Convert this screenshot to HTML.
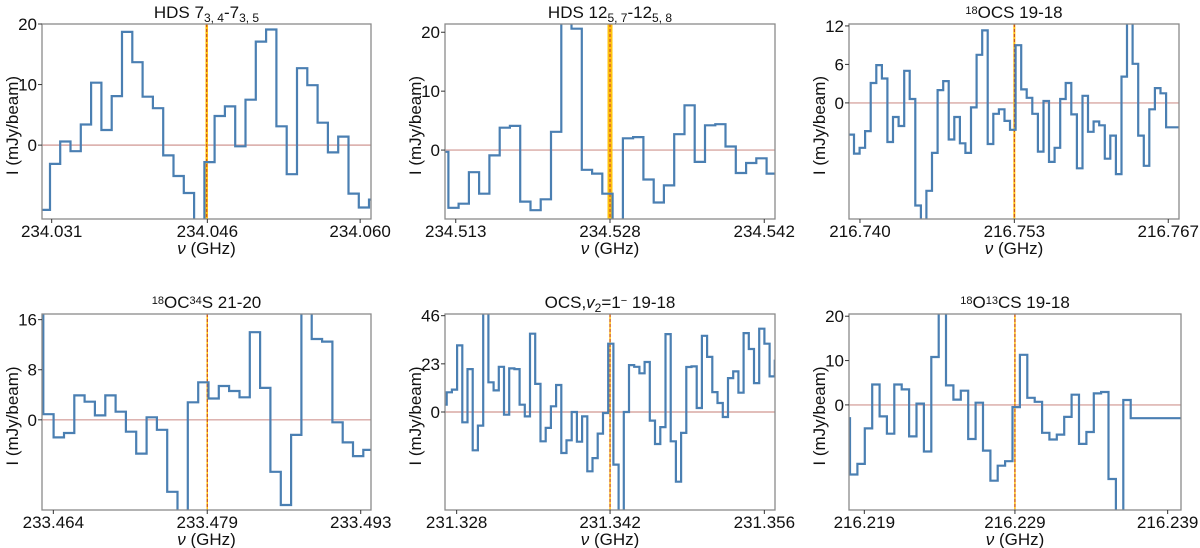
<!DOCTYPE html>
<html><head><meta charset="utf-8"><style>
html,body{margin:0;padding:0;background:#fff;}
svg{display:block;font-family:"Liberation Sans","DejaVu Sans",sans-serif;}
</style></head><body>
<svg id="fig" width="1200" height="548" viewBox="0 0 1200 548" xmlns="http://www.w3.org/2000/svg"></svg>
<script>
// ---- data (values in mJy/beam, one per channel) ----
const titles = ["HDS 7<tspan baseline-shift='-30%' font-size='12'>3, 4</tspan>-7<tspan baseline-shift='-30%' font-size='12'>3, 5</tspan>",
 "HDS 12<tspan baseline-shift='-30%' font-size='12'>5, 7</tspan>-12<tspan baseline-shift='-30%' font-size='12'>5, 8</tspan>",
 "<tspan baseline-shift='40%' font-size='11'>18</tspan>OCS 19-18",
 "<tspan baseline-shift='40%' font-size='11'>18</tspan>OC<tspan baseline-shift='40%' font-size='11'>34</tspan>S 21-20",
 "OCS,<tspan font-style='italic'>v</tspan><tspan baseline-shift='-30%' font-size='12'>2</tspan>=1<tspan baseline-shift='40%' font-size='11'>−</tspan> 19-18",
 "<tspan baseline-shift='40%' font-size='11'>18</tspan>O<tspan baseline-shift='40%' font-size='11'>13</tspan>CS 19-18"];
const xTicks = [[234.03100,234.04564,234.06001],[234.51300,234.52750,234.54200],[216.74000,216.75352,216.76700],
                [233.46400,233.47852,233.49300],[231.32800,231.34196,231.35600],[216.21900,216.22893,216.23900]];
const xTickLabels = [["234.031","234.046","234.060"],["234.513","234.528","234.542"],["216.740","216.753","216.767"],
                     ["233.464","233.479","233.493"],["231.328","231.342","231.356"],["216.219","216.229","216.239"]];
const yTicks = [[0,10,20],[0,10,20],[0,6,12],[0,8,16],[0,23,46],[0,10,20]];
const xDomains = [[234.03009,234.06103],[234.51199,234.54301],[216.73904,216.76794],
                  [233.46293,233.49397],[231.32694,231.35697],[216.21799,216.23988]];
const yDomains = [[-12.2,20],[-11.7,21.4],[-18.1,12.3],[-14.4,16.9],[-46.8,46.8],[-23.7,20.5]];
const chanStart = [234.02987,234.51134,216.73899,233.46208,231.32662,216.21757];
const chanWidth = [0.000968,0.000965,0.000488,0.000974,0.000474,0.000487];
const lineFreq = [234.04558,234.52750,216.75352,233.47852,231.34196,216.22893];
const s1 = [-10.7,-3.1,0.6,-1.0,3.4,10.3,2.5,8.1,18.7,13.7,8.0,6.1,-1.7,-5.1,-7.9,-14,-2.8,4.8,6.4,-0.2,7.5,17.1,19.1,3.1,-4.8,12.7,9.9,3.7,-1.2,1.4,-8.0,-10.3,-9.0];
const s2 = [-0.3,-9.8,-9.1,-3.75,-7.4,-0.9,3.8,4.1,-8.75,-10.2,-8.35,3.1,23,20.6,-3.35,-4.0,-7.4,-14,2.0,2.2,-5.0,-8.9,-6.0,2.7,7.6,-2.0,4.2,4.4,0.6,-3.9,-2.2,-1.4,-4.0];
const s3 = [-4.95,-7.9,-7.0,-4.4,3.1,5.9,3.8,-6.1,-2.2,-3.6,5.0,0.6,-16.0,-20,-13.7,-7.8,2.0,3.4,-5.7,-2.2,-6.3,-7.8,-0.7,7.5,11.3,-6.4,-1.7,-1.0,-2.8,-4.2,9.0,2.1,0.8,-1.7,-7.6,0.3,-9.2,-7.0,0.6,3.1,-1.8,-10.2,1.1,-4.5,-2.9,-3.5,-8.7,-5.1,-11.1,4.1,14,6.1,-5.1,-9.8,-1.0,2.3,1.5,-3.8,-3.8,-3.8];
const s4 = [20,0.9,-2.8,-2.1,3.9,2.9,0.7,3.9,1.3,-1.9,-5.4,0.4,-1.6,-11.5,-14.5,2.8,6.0,3.4,5.4,4.6,3.6,14.0,5.1,-8.3,-13.6,-2.4,19,12.9,12.5,-0.4,-3.6,-5.8,-4.8];
const s5 = [3.5,9.4,10.7,31.8,-4.9,20.5,-18.3,-6.5,50,14.2,10.3,21.6,-1.3,20.8,20.5,3.5,-2.1,37.4,13.4,-14.0,-7.6,2.7,12.9,-19.6,-13.5,0,-14.2,-2.1,-28.3,-22.0,-10.3,-0.5,32.6,-25.1,-50,0,22.4,21.6,18.5,23.9,-4.1,-15.3,-7.2,37.2,-14.0,-33.3,-10.0,21.5,21.8,1.9,36.4,26.3,9.5,4.3,-2.4,16.2,19.4,9.2,37.7,30.1,13.8,39.8,32.6,17.0,24.5];
const s6 = [-3.0,-15.7,-13.3,-5.3,4.6,-2.6,-6.5,4.6,3.5,-7.1,0.3,-10.5,10.8,22,4.4,1.2,3.2,-7.7,0.5,-10.3,-17.1,-13.7,-12.7,-0.5,11.3,1.6,0.7,-6.3,-7.8,-6.7,-2.7,2.3,-8.8,-6.1,2.6,2.9,-16.7,-26,1.1,-3.0,-3.0,-3.0,-3.0,-3.0,-3.0,-3.0,-3.0];
const series = [s1,s2,s3,s4,s5,s6];
const bandWidth = [2.5,5,2,1.5,1.5,1.5];

// ---- layout ----
const frames = [[42,24,329,195],[445,24,330,195],[849,24,330,195],
                [42,314,329,196],[445,314,330,196],[849,314,332,196]];
const NS="http://www.w3.org/2000/svg";
const svg=document.getElementById('fig');
function mk(tag,attrs,parent){const e=document.createElementNS(NS,tag);for(const k in attrs)e.setAttribute(k,attrs[k]);(parent||svg).appendChild(e);return e;}

frames.forEach((fr,p)=>{
  const [L,T,W,H]=fr;
  const g=mk('g',{});
  
  
  const xd=xDomains[p], yd=yDomains[p];
  const X=f=>L+(f-xd[0])/(xd[1]-xd[0])*W;
  const Y=v=>T+H-(v-yd[0])/(yd[1]-yd[0])*H;
  const cp=mk('clipPath',{id:'cp'+p},g); mk('rect',{x:L,y:T,width:W,height:H},cp);
  const z=mk('line',{x1:L,x2:L+W,y1:Y(0),y2:Y(0),stroke:'#d8a8a4','stroke-width':1.4},g);
  
  
  const lx=X(lineFreq[p]);
  const band=mk('rect',{x:lx-bandWidth[p]/2,y:T,width:bandWidth[p],height:H,fill:'#ffc20e'},g);
  
  
  const dl=mk('line',{x1:lx,x2:lx,y1:T,y2:T+H,stroke:'#c0392b','stroke-width':1,'stroke-dasharray':'3,2'},g);
  
  
  const vals=series[p], f0=chanStart[p], df=chanWidth[p];
  let d='';
  vals.forEach((v,i)=>{const xa=X(f0+i*df), xb=X(f0+(i+1)*df), y=Y(v);
    d+=(i===0?'M':'L')+xa.toFixed(1)+','+y.toFixed(1)+'L'+xb.toFixed(1)+','+y.toFixed(1);});
  const sp=mk('path',{d:d,fill:'none',stroke:'#4a7fb2','stroke-width':2.2,'clip-path':'url(#cp'+p+')'},g);
  
  
  const fr2=mk('rect',{x:L,y:T,width:W,height:H,fill:'none',stroke:'#8a8a8a','stroke-width':1.3},g);
  
  
  xTicks[p].forEach((t,i)=>{const x=X(t);
    mk('line',{x1:x,x2:x,y1:T+H,y2:T+H+4,stroke:'#333','stroke-width':1},g);
    const tx=mk('text',{x:x,y:T+H+18,'text-anchor':'middle','font-size':17,fill:'#111'},g);
    tx.textContent=xTickLabels[p][i];
    
    });
  yTicks[p].forEach(t=>{const y=Y(t);
    mk('line',{x1:L-4,x2:L,y1:y,y2:y,stroke:'#333','stroke-width':1},g);
    const ty=mk('text',{x:L-5,y:y+6,'text-anchor':'end','font-size':17,fill:'#111'},g);
    ty.textContent=t;
    
    });
  const xl=mk('text',{x:L+W/2,y:T+H+35,'text-anchor':'middle','font-size':17,fill:'#111'},g);
  xl.innerHTML="<tspan font-style='italic'>ν</tspan> (GHz)";
  
  
  const yx=L-30, yy=T+H/2+4;
  const yl=mk('text',{x:yx+6,y:yy,'text-anchor':'middle','font-size':17,fill:'#111',transform:'rotate(-90 '+(yx+6)+' '+yy+')'},g);
  yl.textContent='I (mJy/beam)';
  
  
  const ti=mk('text',{x:L+W/2,y:T-6,'text-anchor':'middle','font-size':17,fill:'#111'},g);
  ti.innerHTML=titles[p];
  
  
});
</script>
</body></html>
